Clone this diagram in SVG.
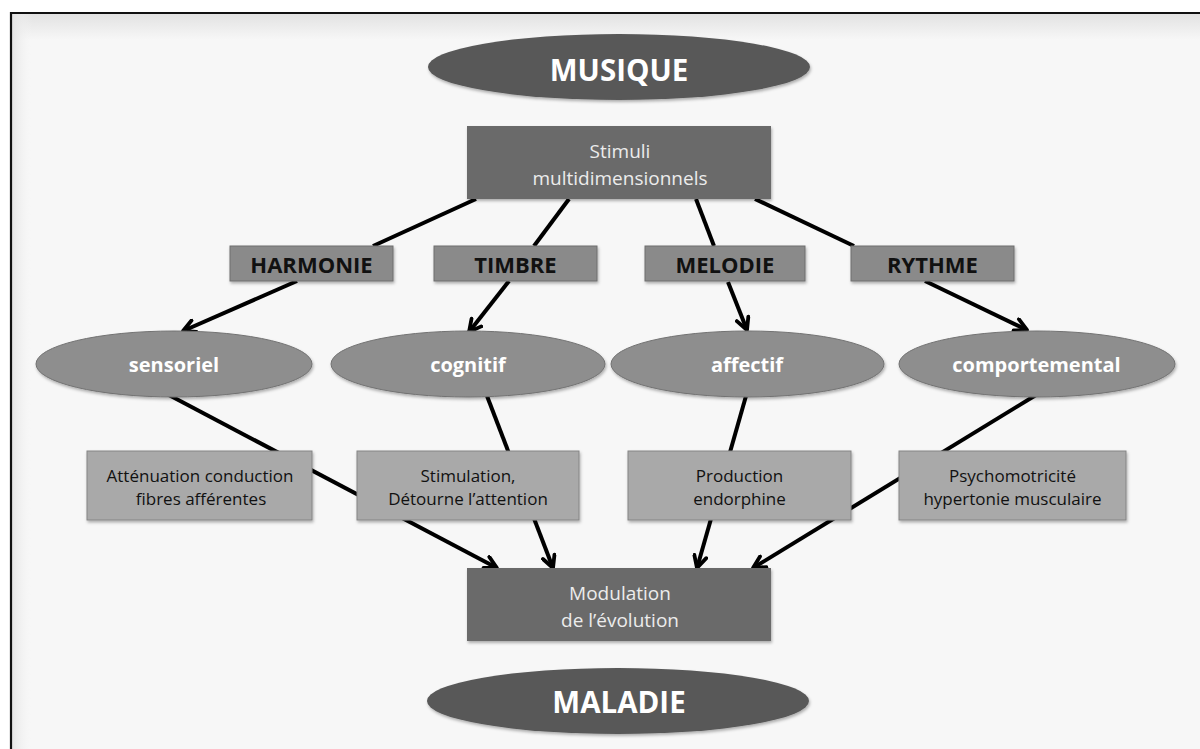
<svg xmlns="http://www.w3.org/2000/svg" width="1200" height="749" viewBox="0 0 1200 749">
<defs>
<style>
.t{font-family:"Open Sans","Liberation Sans",sans-serif;text-anchor:middle}
.big{font-size:29.5px;font-weight:bold;fill:#ffffff}
.dk{fill:#6a6a6a}
.dt{font-size:19px;fill:#ececec}
.lbl{fill:#8a8a8a;stroke:#6e6e6e;stroke-width:1}
.lt{font-size:22px;font-weight:bold;fill:#111}
.el{fill:#8e8e8e;stroke:#727272;stroke-width:1}
.et{font-size:20px;font-weight:bold;fill:#ffffff}
.bx{fill:#a9a9a9;stroke:#858585;stroke-width:1}
.bt{font-size:17px;fill:#111}
.ln{stroke:#000;stroke-width:4;fill:none}
.ar{stroke:#000;stroke-width:4;fill:none;marker-end:url(#ah)}
</style>
<marker id="ah" viewBox="0 0 16 16" markerWidth="16" markerHeight="16" markerUnits="userSpaceOnUse" refX="14" refY="8" orient="auto">
<path d="M2,1.8 L14,8 L2,14.2" fill="none" stroke="#000" stroke-width="3.8" stroke-linecap="round" stroke-linejoin="round"/>
</marker>
<linearGradient id="topsh" x1="0" y1="0" x2="0" y2="1">
<stop offset="0" stop-color="#e2e2e2"/>
<stop offset="1" stop-color="#f7f7f7"/>
</linearGradient>
<linearGradient id="leftsh" x1="0" y1="0" x2="1" y2="0">
<stop offset="0" stop-color="#e4e4e4"/>
<stop offset="1" stop-color="#f7f7f7" stop-opacity="0"/>
</linearGradient>
<filter id="sh" x="-10%" y="-10%" width="120%" height="130%">
<feDropShadow dx="1" dy="2" stdDeviation="1.5" flood-color="#000" flood-opacity="0.3"/>
</filter>
</defs>
<rect x="0" y="0" width="1200" height="749" fill="#ffffff"/>
<rect x="11" y="13" width="1200" height="750" fill="#f7f7f7"/>
<rect x="12" y="14" width="1200" height="26" fill="url(#topsh)"/>
<rect x="12" y="14" width="20" height="740" fill="url(#leftsh)"/>
<path d="M11,760 L11,13 L1200,13" fill="none" stroke="#111" stroke-width="2.2"/>

<g id="connectors">
<line class="ln" x1="476" y1="199" x2="373" y2="246"/>
<line class="ln" x1="569" y1="199" x2="534" y2="246"/>
<line class="ln" x1="696" y1="199" x2="714" y2="246"/>
<line class="ln" x1="755" y1="199" x2="854" y2="246"/>
<line class="ar" x1="297" y1="281" x2="183" y2="331"/>
<line class="ar" x1="509" y1="281" x2="469" y2="332"/>
<line class="ar" x1="728" y1="282" x2="747" y2="330"/>
<line class="ar" x1="925" y1="281" x2="1027" y2="330"/>
<line class="ar" x1="167" y1="394" x2="497" y2="568"/>
<line class="ar" x1="487" y1="396" x2="553" y2="568"/>
<line class="ar" x1="746" y1="396" x2="697" y2="568"/>
<line class="ar" x1="1036" y1="395" x2="753" y2="568"/>
</g>

<g id="musique">
<ellipse cx="619" cy="67" rx="191" ry="33" fill="#585858" filter="url(#sh)"/>
<text class="t big" x="619" y="81">MUSIQUE</text>
</g>
<g id="stimuli">
<rect class="dk" x="467" y="126" width="304" height="73" filter="url(#sh)"/>
<text class="t dt" x="620" y="158">Stimuli</text>
<text class="t dt" x="620" y="185">multidimensionnels</text>
</g>
<g id="harmonie">
<rect class="lbl" x="230" y="246" width="163" height="35" filter="url(#sh)"/>
<text class="t lt" x="311.5" y="273">HARMONIE</text>
</g>
<g id="timbre">
<rect class="lbl" x="434" y="246" width="163" height="35" filter="url(#sh)"/>
<text class="t lt" x="515.5" y="273">TIMBRE</text>
</g>
<g id="melodie">
<rect class="lbl" x="645" y="246" width="160" height="35" filter="url(#sh)"/>
<text class="t lt" x="725" y="273">MELODIE</text>
</g>
<g id="rythme">
<rect class="lbl" x="851" y="246" width="163" height="35" filter="url(#sh)"/>
<text class="t lt" x="932.5" y="273">RYTHME</text>
</g>
<g id="sensoriel">
<ellipse class="el" cx="174" cy="364" rx="138" ry="33" filter="url(#sh)"/>
<text class="t et" x="174" y="372">sensoriel</text>
</g>
<g id="cognitif">
<ellipse class="el" cx="468" cy="364" rx="137" ry="33" filter="url(#sh)"/>
<text class="t et" x="468" y="372">cognitif</text>
</g>
<g id="affectif">
<ellipse class="el" cx="747.5" cy="364" rx="136.5" ry="33" filter="url(#sh)"/>
<text class="t et" x="747" y="372">affectif</text>
</g>
<g id="comportemental">
<ellipse class="el" cx="1037" cy="364" rx="138" ry="33" filter="url(#sh)"/>
<text class="t et" x="1036.5" y="372">comportemental</text>
</g>
<g id="attenuation">
<rect class="bx" x="87" y="451" width="225" height="69" filter="url(#sh)"/>
<text class="t bt" x="200" y="481.5">Atténuation conduction</text>
<text class="t bt" x="201" y="505">fibres afférentes</text>
</g>
<g id="stimulation">
<rect class="bx" x="357" y="451" width="222" height="69" filter="url(#sh)"/>
<text class="t bt" x="468" y="481.5">Stimulation,</text>
<text class="t bt" x="468" y="505">Détourne l’attention</text>
</g>
<g id="production">
<rect class="bx" x="628" y="451" width="223" height="69" filter="url(#sh)"/>
<text class="t bt" x="739.5" y="481.5">Production</text>
<text class="t bt" x="739.5" y="505">endorphine</text>
</g>
<g id="psychomotricite">
<rect class="bx" x="899" y="451" width="227" height="69" filter="url(#sh)"/>
<text class="t bt" x="1012.5" y="481.5">Psychomotricité</text>
<text class="t bt" x="1012.5" y="505">hypertonie musculaire</text>
</g>
<g id="modulation">
<rect class="dk" x="467" y="568" width="304" height="73" filter="url(#sh)"/>
<text class="t dt" x="620" y="600">Modulation</text>
<text class="t dt" x="620" y="627">de l’évolution</text>
</g>
<g id="maladie">
<ellipse cx="618" cy="701" rx="191" ry="33" fill="#585858" filter="url(#sh)"/>
<text class="t big" x="619" y="713">MALADIE</text>
</g>
</svg>
